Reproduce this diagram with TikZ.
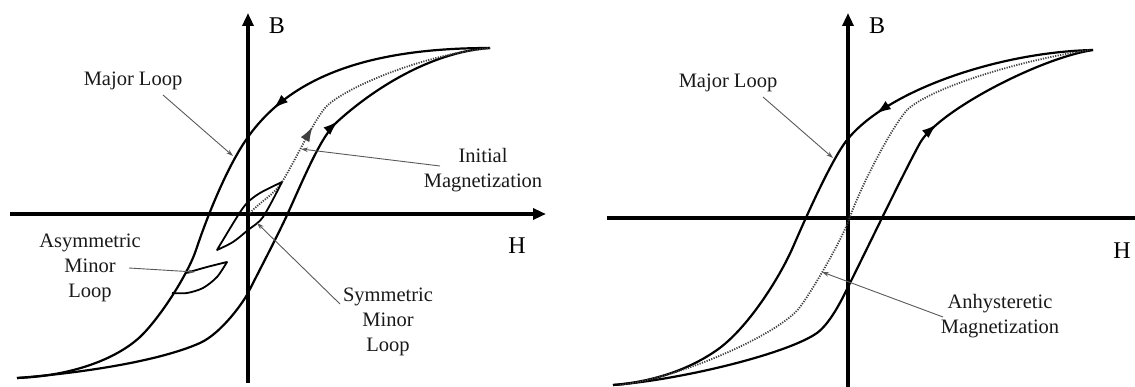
\documentclass[tikz,border=0pt]{standalone}
\usepackage{fontspec}
\setmainfont{Liberation Serif}
\usetikzlibrary{arrows.meta,decorations.markings}
\tikzset{
  axis/.style={line width=3.2pt},
  axistip/.style={-{Triangle[length=13pt,width=11pt]}},
  loopline/.style={line width=2.2pt, line join=round},
  dotline/.style={line width=1.8pt, dash pattern=on 1.2pt off 1.3pt, black!75},
  leader/.style={line width=0.9pt, black!65, -{Stealth[length=7pt,width=4.5pt]}},
  lbl/.style={font=\fontsize{20.5}{25}\selectfont, align=center, inner sep=0pt, text=black!90},
  axlbl/.style={font=\fontsize{24}{28}\selectfont, inner sep=0pt},
  midarrow/.style={postaction={decorate}, decoration={markings, mark=at position #1 with {\arrow{Latex[length=15pt,width=10pt]}}}},
}
\begin{document}
\begin{tikzpicture}[x=1pt,y=-1pt]
\useasboundingbox (0,0) rectangle (1135,387);

% ---------- LEFT PANEL ----------
\draw[axis,axistip] (10,214) -- (546,214);
\draw[axis,axistip] (248,383) -- (248,13);
\node[axlbl] (B1) at (277,26) {B};
\node[axlbl] (H1) at (517,246) {H};

% major loop descending
\draw[loopline, midarrow=230pt] (490,48)
  .. controls (360,48) and (288,81) .. (248,137)
  .. controls (228,165) and (208,214) .. (196,250)
  .. controls (188,274) and (160,318) .. (140,337)
  .. controls (115,360) and (70,376) .. (17,378);
% major loop ascending
\draw[loopline, midarrow=452pt] (17,378)
  .. controls (70,374) and (155,363) .. (200,343)
  .. controls (222,333) and (244,301) .. (248,293)
  .. controls (258,273) and (278,235) .. (288,213)
  .. controls (306,173) and (322,135) .. (337,122)
  .. controls (372,90) and (430,52) .. (490,48);
% initial magnetization
\draw[dotline, midarrow=108pt] (250,213)
  .. controls (262,200) and (274,195) .. (282,182)
  .. controls (294,163) and (313,122) .. (325,108)
  .. controls (340,90) and (420,55) .. (490,48);
% symmetric minor loop
\draw[loopline, line width=1.8pt] plot[smooth, tension=0.5] coordinates {
 (282,182) (260,193) (247,203) (237,217) (217,250)}
 -- plot[smooth, tension=0.5] coordinates {(217,250) (233,242) (248,230) (263,217) (282,182)};
% asymmetric minor loop
\draw[loopline, line width=1.8pt] plot[smooth, tension=0.5] coordinates {
 (172,293) (187,293) (203,288) (217,277) (227,262)}
 -- plot[smooth, tension=0.5] coordinates {(227,262) (207,267) (186,273)};

% labels left
\node[lbl] (ml1) at (133,81) {Major Loop};
\coordinate (ml1s) at (163,95);
\coordinate (ml1e) at (233,156);
\draw[leader] (ml1s) -- (ml1e);

\node[lbl] (im) at (483,170) {Initial\\Magnetization};
\coordinate (ims) at (440,166);
\coordinate (ime) at (301,149);
\draw[leader] (ims) -- (ime);

\node[lbl] (sml) at (388,322) {Symmetric\\Minor\\Loop};
\coordinate (smls) at (340,304);
\coordinate (smle) at (257,223);
\draw[leader] (smls) -- (smle);

\node[lbl] (aml) at (90,268) {Asymmetric\\Minor\\Loop};
\coordinate (amls) at (129,268);
\coordinate (amle) at (195,272);
\draw[leader] (amls) -- (amle);

% ---------- RIGHT PANEL ----------
\draw[axis] (607,218) -- (1135,218);
\draw[axis,axistip] (848,387) -- (848,13);
\node[axlbl] (B2) at (877,26) {B};
\node[axlbl] (H2) at (1122,251) {H};

\draw[loopline, midarrow=229pt] (1093,50)
  .. controls (1000,52) and (887,90) .. (847,140)
  .. controls (831,160) and (803,224) .. (793,247)
  .. controls (779,279) and (747,329) .. (717,350)
  .. controls (687,371) and (650,382) .. (613,385);
\draw[loopline, midarrow=454pt] (613,385)
  .. controls (680,380) and (787,354) .. (817,333)
  .. controls (832,322) and (845,293) .. (850,283)
  .. controls (865,253) and (905,170) .. (920,143)
  .. controls (938,111) and (1040,58) .. (1093,50);
\draw[dotline] (620,385)
  .. controls (680,378) and (780,334) .. (800,307)
  .. controls (812,291) and (842,240) .. (850,217)
  .. controls (860,188) and (891,128) .. (907,110)
  .. controls (930,88) and (1020,60) .. (1090,50);

\node[lbl] (ml2) at (728,83) {Major Loop};
\coordinate (ml2s) at (763,97);
\coordinate (ml2e) at (833,158);
\draw[leader] (ml2s) -- (ml2e);

\node[lbl] (am) at (1000,316) {Anhysteretic\\Magnetization};
\coordinate (ams) at (943,317);
\coordinate (ame) at (822,272);
\draw[leader] (ams) -- (ame);
\end{tikzpicture}
\end{document}
